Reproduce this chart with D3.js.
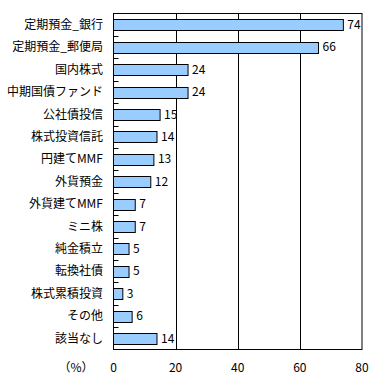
<!DOCTYPE html>
<html lang="ja">
<head>
<meta charset="UTF-8">
<title>chart</title>
<style>
  body { margin: 0; background: #fff; }
  text { font-family: "Noto Sans CJK JP", sans-serif; font-size: 12px; fill: #000; }
</style>
</head>
<body>
<svg id="chart"></svg>
<script src="https://cdn.jsdelivr.net/npm/d3@7"></script>
<script>
var width = 370, height = 380;
var categories = ["定期預金_銀行", "定期預金_郵便局", "国内株式", "中期国債ファンド", "公社債投信",
  "株式投資信託", "円建てMMF", "外貨預金", "外貨建てMMF", "ミニ株", "純金積立", "転換社債",
  "株式累積投資", "その他", "該当なし"];
var values = [74, 66, 24, 24, 15, 14, 13, 12, 7, 7, 5, 5, 3, 6, 14];
var xTicks = [0, 20, 40, 60, 80];

var plotLeft = 113.5, plotRight = 362, plotTop = 13.5, plotBottom = 349.5;

var svg = d3.select("#chart").attr("width", width).attr("height", height);

var x = d3.scaleLinear().domain([0, 80]).range([plotLeft, plotRight]);
var y = d3.scaleBand().domain(categories).range([plotTop, plotBottom]).paddingInner(0.52).paddingOuter(0.26);
var yb = d3.scaleBand().domain(categories).range([plotTop, plotBottom]);

// gridlines
svg.selectAll("line.grid").data(xTicks.slice(1, -1)).enter().append("line")
  .attr("x1", function(d){ return Math.round(x(d)) + 0.5; })
  .attr("x2", function(d){ return Math.round(x(d)) + 0.5; })
  .attr("y1", plotTop).attr("y2", plotBottom)
  .attr("stroke", "#000");

// bars
svg.selectAll("rect.bar").data(values).enter().append("rect")
  .attr("x", x(0))
  .attr("y", function(d, i){ return Math.round(y(categories[i])) + 0.5; })
  .attr("width", function(d){ return x(d) - x(0); })
  .attr("height", Math.round(y.bandwidth()))
  .attr("fill", "#99ccff")
  .attr("stroke", "#000");

// frame
svg.append("rect").attr("x", plotLeft).attr("y", plotTop)
  .attr("width", plotRight - plotLeft).attr("height", plotBottom - plotTop)
  .attr("fill", "none").attr("stroke", "#000");

// category ticks (inside)
svg.selectAll("line.ytick").data(categories.slice(1)).enter().append("line")
  .attr("x1", plotLeft).attr("x2", plotLeft + 5)
  .attr("y1", function(d){ return Math.round(yb(d)) + 0.5; })
  .attr("y2", function(d){ return Math.round(yb(d)) + 0.5; })
  .attr("stroke", "#000");

// category labels
svg.selectAll("text.cat").data(categories).enter().append("text")
  .attr("x", 103)
  .attr("y", function(d){ return yb(d) + yb.bandwidth() / 2; })
  .attr("dy", "0.36em")
  .attr("text-anchor", "end")
  .text(function(d){ return d; });

// value labels
svg.selectAll("text.val").data(values).enter().append("text")
  .attr("x", function(d){ return x(d) + 4; })
  .attr("y", function(d, i){ return yb(categories[i]) + yb.bandwidth() / 2; })
  .attr("dy", "0.36em")
  .text(function(d){ return d; });

// x tick labels
svg.selectAll("text.xt").data(xTicks).enter().append("text")
  .attr("x", function(d){ return x(d); })
  .attr("y", 368).attr("dy", "0.36em")
  .attr("text-anchor", "middle")
  .text(function(d){ return d; });

svg.append("text").attr("x", 76).attr("y", 368).attr("dy", "0.36em")
  .attr("text-anchor", "middle").text("（%）");
</script>
</body>
</html>
